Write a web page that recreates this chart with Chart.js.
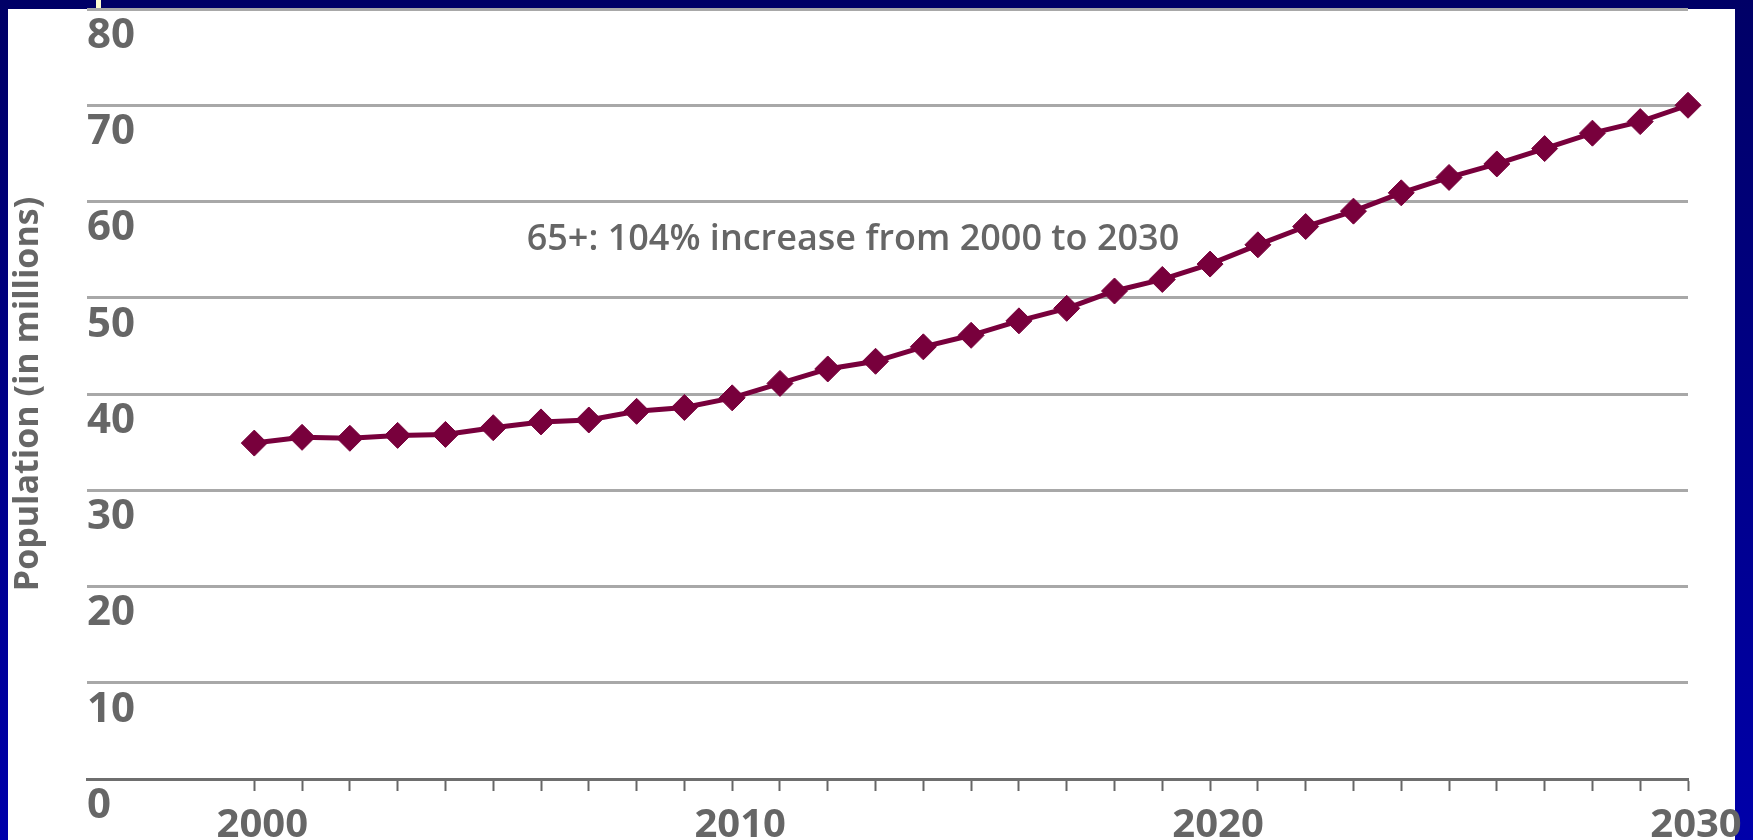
<!DOCTYPE html>
<html lang="en">
<head>
  <meta charset="UTF-8" />
  <title>Population 65+</title>
  <script src="https://cdn.jsdelivr.net/npm/chart.js"></script>
  <style>
    html, body { margin: 0; padding: 0; }
    body {
      width: 1753px; height: 840px; overflow: hidden; position: relative;
      background: linear-gradient(#000066, #0000aa);
    }
    #panel { position: absolute; left: 8px; top: 9px; width: 1727px; height: 831px; background: #fff; }
    #mark { position: absolute; left: 96px; top: 0; width: 5px; height: 9px; background: #ffffd0; }
    #chart { position: absolute; left: 0; top: 0; }
  </style>
</head>
<body>

  <div id="panel"></div>
  <div id="mark"></div>
  <canvas id="chart" width="1753" height="840"></canvas>

  <script>
    // data
    const years = [2000, 2001, 2002, 2003, 2004, 2005, 2006, 2007, 2008, 2009,
                   2010, 2011, 2012, 2013, 2014, 2015, 2016, 2017, 2018, 2019,
                   2020, 2021, 2022, 2023, 2024, 2025, 2026, 2027, 2028, 2029, 2030];
    const population = [34.9, 35.5, 35.4, 35.7, 35.8, 36.5, 37.1, 37.3, 38.2, 38.6,
                         39.6, 41.1, 42.6, 43.4, 44.9, 46.1, 47.6, 48.9, 50.7, 51.9,
                         53.5, 55.5, 57.4, 59.0, 60.9, 62.5, 63.9, 65.5, 67.1, 68.3, 70.0];
    const xLabels = [2000, 2010, 2020, 2030];
    const yTicks = [0, 10, 20, 30, 40, 50, 60, 70, 80];
    const yTitle = 'Population (in millions)';
    const note = '65+: 104% increase from 2000 to 2030';

    const maroon = '#78003c';
    const gray = '#666666';

    // annotation text, placed in data units
    const notePlugin = {
      id: 'note',
      afterDatasetsDraw(chart) {
        const { ctx, scales } = chart;
        ctx.save();
        ctx.font = '600 36px "Open Sans"';
        ctx.fillStyle = gray;
        ctx.textAlign = 'left';
        ctx.textBaseline = 'middle';
        ctx.fillText(note, scales.x.getPixelForValue(2005.7), scales.y.getPixelForValue(56.0));
        ctx.restore();
      }
    };

    new Chart(document.getElementById('chart'), {
      type: 'line',
      data: {
        datasets: [{
          data: years.map((y, i) => ({ x: y, y: population[i] })),
          borderColor: maroon,
          borderWidth: 5,
          backgroundColor: maroon,
          pointStyle: 'rectRot',
          pointRadius: 13,
          pointBackgroundColor: maroon,
          pointBorderColor: maroon,
          pointBorderWidth: 1,
          tension: 0,
          clip: false
        }]
      },
      options: {
        responsive: false,
        animation: false,
        devicePixelRatio: 1,
        layout: { autoPadding: false, padding: { top: 9, right: 65, left: 0, bottom: 0 } },
        plugins: { legend: { display: false }, tooltip: { enabled: false } },
        scales: {
          x: {
            type: 'linear',
            min: 1996.5,
            max: 2030,
            afterBuildTicks: s => { s.ticks = years.map(v => ({ value: v })); },
            afterFit: s => { s.height = 61; s.paddingLeft = 0; s.paddingRight = 0; },
            border: { display: true, color: '#6e6e6e', width: 3 },
            grid: { drawOnChartArea: false, drawTicks: true, tickLength: 12, tickColor: gray, tickWidth: 2 },
            ticks: {
              autoSkip: false,
              maxRotation: 0,
              padding: 11,
              labelOffset: 8,
              color: gray,
              font: { family: 'Open Sans', size: 40, weight: 'bold' },
              callback: v => xLabels.includes(v) ? String(v) : ''
            }
          },
          y: {
            min: 0,
            max: 80,
            afterBuildTicks: s => { s.ticks = yTicks.map(v => ({ value: v })); },
            afterFit: s => { s.width = 87; s.paddingTop = 0; s.paddingBottom = 0; },
            border: { display: false },
            grid: {
              drawTicks: false,
              lineWidth: 3,
              color: c => c.tick && c.tick.value === 0 ? 'rgba(0,0,0,0)' : '#a8a8a8'
            },
            ticks: {
              mirror: true,
              padding: 0,
              labelOffset: 27,
              color: gray,
              font: { family: 'Open Sans', size: 42, weight: 'bold' }
            },
            title: {
              display: true,
              text: yTitle,
              color: gray,
              padding: { top: 8, bottom: 0 },
              font: { family: 'Open Sans', size: 34, weight: 'bold' }
            }
          }
        }
      },
      plugins: [notePlugin]
    });
  </script>

</body>
</html>
